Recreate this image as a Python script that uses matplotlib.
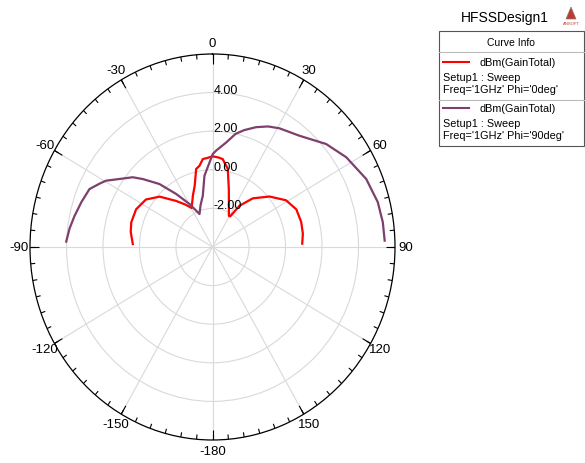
import numpy as np
import matplotlib.pyplot as plt
from matplotlib.patches import Rectangle, Polygon
from matplotlib.lines import Line2D

plt.rcParams['font.family'] = ['Liberation Sans', 'DejaVu Sans']

# Phi = 0deg cut, theta in deg, gain in dBm
theta_phi0 = [-88, -80, -74, -65, -56, -48, -40, -34, -29.5, -22, -17, -12.5, -9.6, -6.6, -4.3, 0,
              4, 7, 11.7, 16.6, 22, 29, 31.4, 34.7, 41.2, 50, 59, 67, 75, 82, 88]
gain_phi0 = [0.37, 0.55, 0.63, 0.62, 0.40, -0.10, -0.88, -1.35, -1.68, -1.13, -0.67, 0.14, 0.27, 0.59, 0.61, 0.70,
             0.65, 0.59, 0.13, -0.87, -1.6, -2.15, -2.14, -1.40, -0.65, 0.07, 0.70, 0.99, 1.03, 1.0, 0.92]

# Phi = 90deg cut
theta_phi90 = [-88, -83, -78, -72, -66, -62, -59.5, -53, -50.4, -47.3, -41.7, -35.9, -29.5, -22.6, -17, -11.3,
               -6.8, -2.1, 0.2, 2.3, 7.9, 12.2, 16, 21, 26, 30.8, 39.6, 49.4, 57.6, 67.3, 75.6, 82.2, 88]
gain_phi90 = [4.02, 3.89, 3.73, 3.55, 3.38, 3.0, 2.77, 1.93, 1.67, 1.19, 0.37, -0.61, -1.44, -2.15, -1.75, -1.29,
              -0.28, 0.39, 0.82, 1.0, 1.47, 2.0, 2.3, 2.65, 2.95, 3.16, 3.48, 4.2, 4.68, 5.13, 5.35, 5.42, 5.44]

ring_values = [-2, 0, 2, 4]
ring_labels = ['-2.00', '0.00', '2.00', '4.00']
angle_ticks = [0, 30, 60, 90, 120, 150, 180, 210, 240, 270, 300, 330]
angle_labels = ['0', '30', '60', '90', '120', '150', '-180', '-150', '-120', '-90', '-60', '-30']

red = '#ff0000'
plum = '#7d3f6c'
rmin, rmax = -4, 6

fig = plt.figure(figsize=(5.85, 4.64), dpi=100)
ax = fig.add_axes([30/585, 23/464, 365/585, 386/464], projection='polar')
ax.set_aspect('auto')
ax.set_theta_zero_location('N')
ax.set_theta_direction(-1)
ax.set_rlim(rmin, rmax)

ax.plot(np.radians(theta_phi0), gain_phi0, color=red, lw=1.6)
ax.plot(np.radians(theta_phi90), gain_phi90, color=plum, lw=1.6)

ax.set_xticks(np.radians(angle_ticks))
ax.set_xticklabels(angle_labels, fontsize=9.5)
ax.tick_params(axis='x', which='major', length=0, pad=1)
ax.set_yticks(ring_values)
ax.set_yticklabels([])
ax.grid(color='#d9d9d9', lw=0.8)
ax.spines['polar'].set_linewidth(0.9)

# tick marks on the outer circle, pointing inward
minor = np.arange(0, 360, 5)
ax.vlines(np.radians(minor), rmax - 0.25, rmax, color='black', lw=0.8)
ax.vlines(np.radians(angle_ticks), rmax - 0.5, rmax, color='black', lw=0.8)

for v, s in zip(ring_values, ring_labels):
    ax.annotate(s, xy=(0, v), xytext=(1, 3), textcoords='offset pixels',
                ha='left', va='center', fontsize=9)

# header and legend box
fig.text(505/585, 1 - 18/464, 'HFSSDesign1', ha='center', va='center', fontsize=10)
fig.add_artist(Polygon([[566/585, 1-20/464], [576/585, 1-20/464], [571/585, 1-8/464]],
                       closed=True, transform=fig.transFigure, fc='#c0392b', ec='#808080', lw=0.5))
fig.text(571/585, 1 - 24/464, 'ANSOFT', ha='center', va='center', fontsize=3, color='#c0392b')

fig.add_artist(Rectangle((439/585, 1 - 147/464), 145/585, 115/464, transform=fig.transFigure,
                         fill=False, ec='#555555', lw=0.8))
for yy in [53, 101]:
    fig.add_artist(Line2D([439/585, 584/585], [1 - yy/464, 1 - yy/464], transform=fig.transFigure,
                          color='#bbbbbb', lw=0.8))
fig.text(511/585, 1 - 43/464, 'Curve Info', ha='center', va='center', fontsize=7.5)

entries = [(red, "Freq='1GHz' Phi='0deg'", 63), (plum, "Freq='1GHz' Phi='90deg'", 109)]
for col, freq, y0 in entries:
    fig.add_artist(Line2D([443/585, 469/585], [1 - y0/464, 1 - y0/464], transform=fig.transFigure,
                          color=col, lw=1.5))
    fig.text(480/585, 1 - y0/464, 'dBm(GainTotal)', ha='left', va='center', fontsize=7.8)
    fig.text(443/585, 1 - (y0 + 15)/464, 'Setup1 : Sweep', ha='left', va='center', fontsize=7.8)
    fig.text(443/585, 1 - (y0 + 27)/464, freq, ha='left', va='center', fontsize=7.8)

fig.savefig('out.png', dpi=100)
